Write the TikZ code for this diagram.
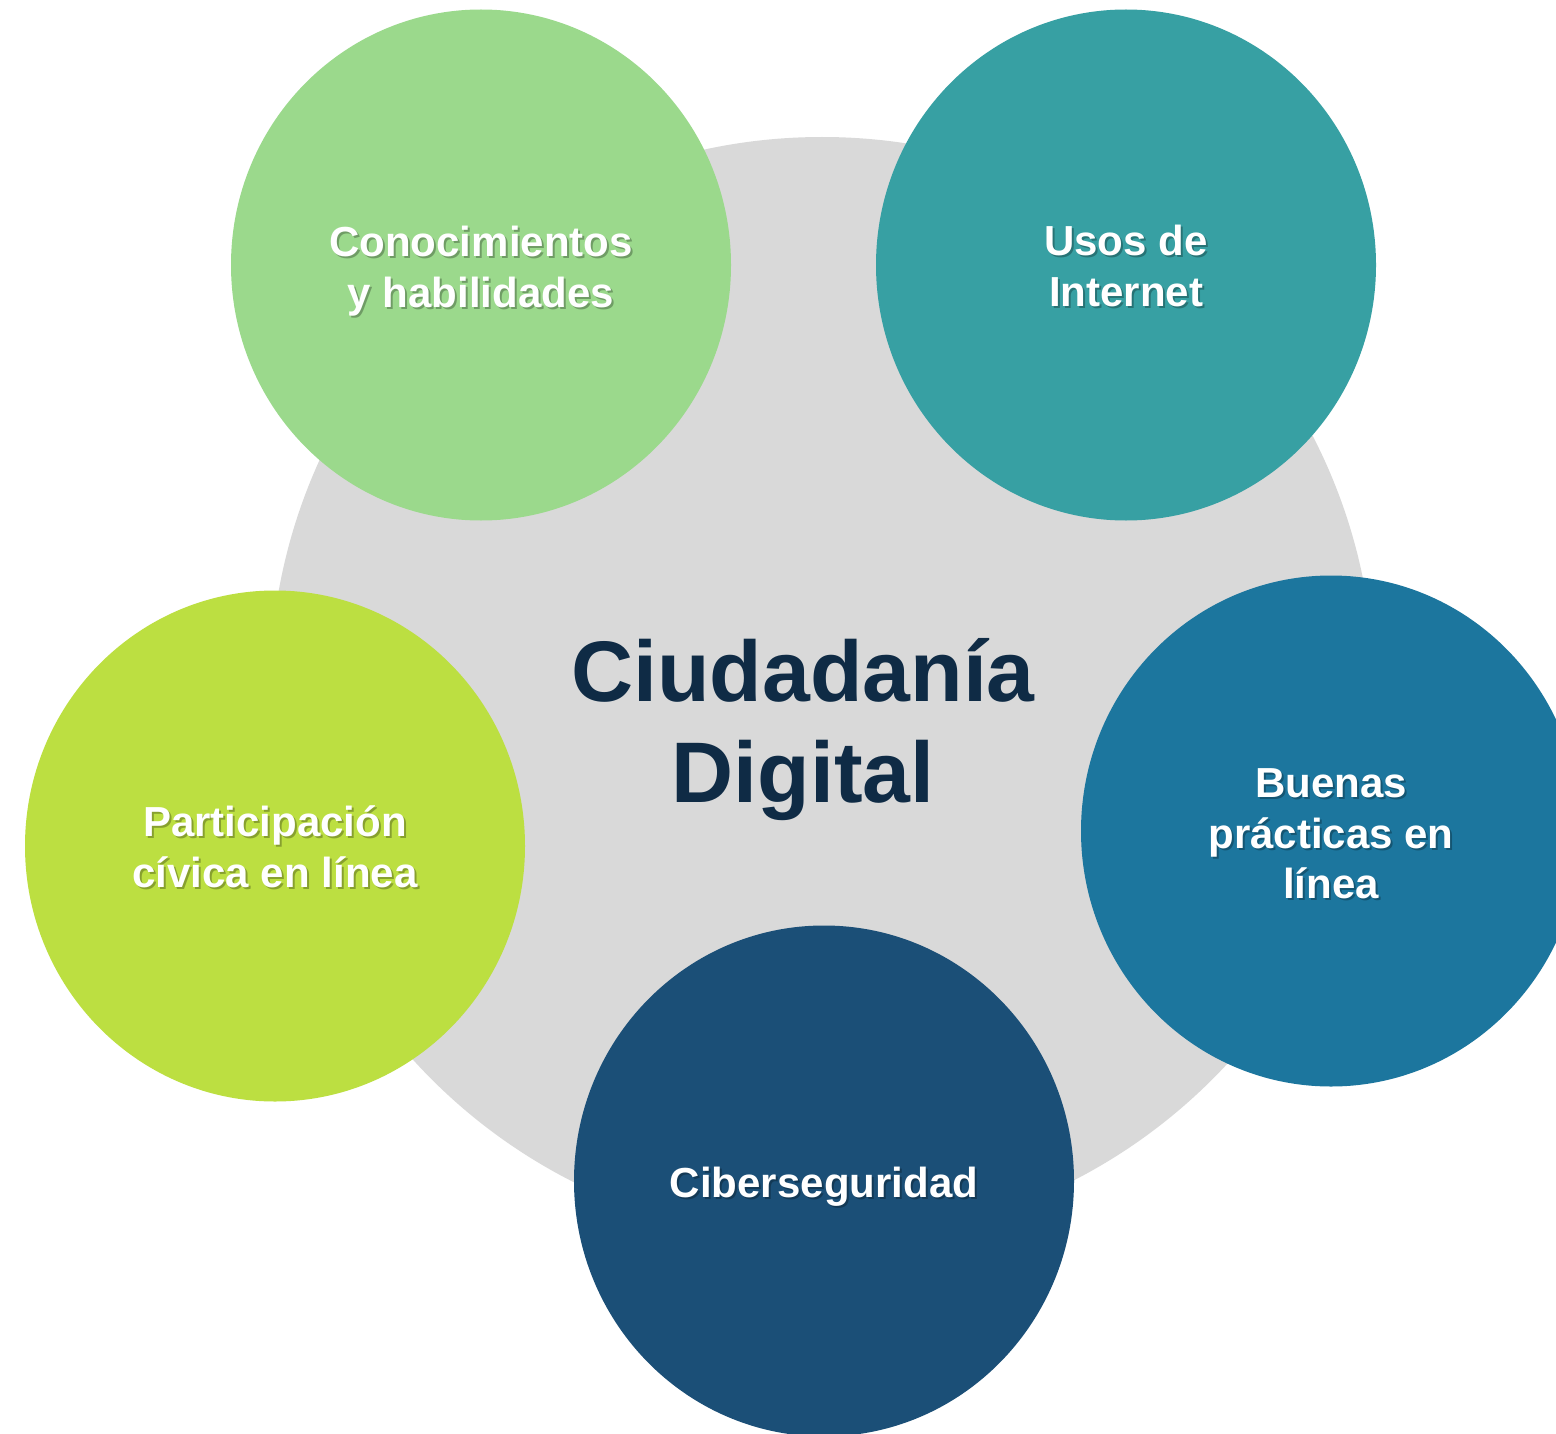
\documentclass[tikz,border=0pt]{standalone}
\usepackage{fontspec}
\setmainfont{Liberation Sans}
\usetikzlibrary{shapes.geometric}
\definecolor{hubgray}{HTML}{D9D9D9}
\definecolor{cgreen}{HTML}{9BD98C}
\definecolor{cteal}{HTML}{37A0A3}
\definecolor{cblue}{HTML}{1C769E}
\definecolor{cdark}{HTML}{1B4F77}
\definecolor{clime}{HTML}{BCDF41}
\definecolor{navytext}{HTML}{0F2B45}
\tikzset{
  petal/.style={ellipse, draw=none, inner sep=0pt, minimum width=500pt, minimum height=511pt},
  lbl/.style={text=white, font=\fontsize{42}{50.5}\selectfont\bfseries, align=center, inner sep=0pt},
  lblsh/.style={lbl, text=black, opacity=0.28},
  hubtext/.style={text=navytext, font=\fontsize{86}{101}\selectfont\bfseries, align=center, inner sep=0pt}
}
\newcommand\PetalLabel[3]{%
  \node[lblsh] (#1-sh) at ([shift={(2,2)}]#2) {#3};
  \node[lbl] (#1) at (#2) {#3};}
\begin{document}
\begin{tikzpicture}[x=1pt,y=-1pt]
\useasboundingbox (0,0) rectangle (1556,1434);
\clip (0,0) rectangle (1556,1434);
\fill[white] (0,0) rectangle (1556,1434);
\node[circle, fill=hubgray, inner sep=0pt, minimum size=1104pt] (hub) at (822,689) {};
\node[petal, fill=cgreen] (p1) at (481,265) {};
\node[petal, fill=cteal]  (p2) at (1126,265) {};
\node[petal, fill=cblue]  (p3) at (1331,831) {};
\node[petal, fill=cdark]  (p4) at (824,1181) {};
\node[petal, fill=clime]  (p5) at (275,846) {};
\node[hubtext] (hubt) at (803,730) {Ciudadanía\\Digital};
\PetalLabel{t1}{481,271}{Conocimientos\\y habilidades}
\PetalLabel{t2}{1126,266}{Usos de\\Internet}
\PetalLabel{t3}{1331,834}{Buenas\\prácticas en\\línea}
\PetalLabel{t4}{824,1187}{Ciberseguridad}
\PetalLabel{t5}{275,847}{Participación\\cívica en línea}
\end{tikzpicture}
\end{document}
